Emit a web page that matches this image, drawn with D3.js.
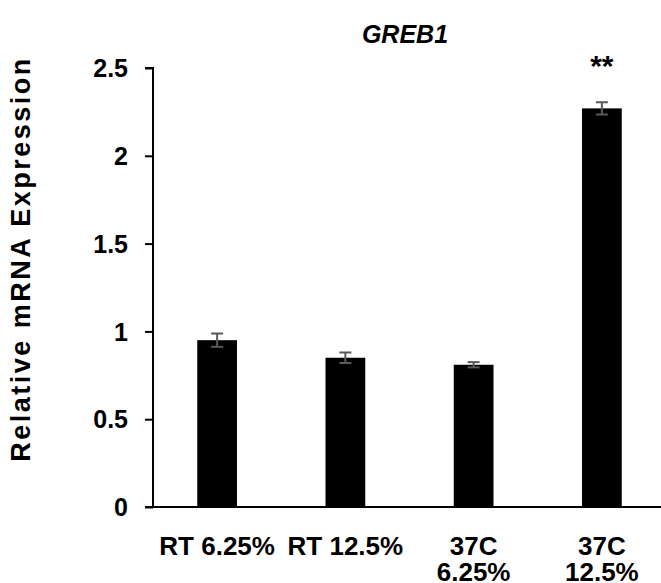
<!DOCTYPE html>
<html>
<head>
<meta charset="utf-8">
<script src="https://cdn.jsdelivr.net/npm/d3@7"></script>
<style>
  html, body { margin: 0; padding: 0; background: #fff; }
  svg { display: block; font-family: "Liberation Sans", Arial, sans-serif; }
</style>
</head>
<body>
<svg id="chart" width="661" height="583"></svg>
<script>
// GREB1 relative expression per condition
const categories = [["RT 6.25%"], ["RT 12.5%"], ["37C", "6.25%"], ["37C", "12.5%"]];
const values = [0.95, 0.85, 0.81, 2.27];
const errors = [0.038, 0.03, 0.015, 0.035];
const marks = ["", "", "", "**"];
const yTicks = [0, 0.5, 1, 1.5, 2, 2.5];

const svg = d3.select("#chart");
const plotLeft = 153, plotRight = 666, plotTop = 68, plotBottom = 507;

const x = d3.scaleBand().domain(d3.range(categories.length)).range([plotLeft, plotRight]).paddingInner(0.69).paddingOuter(0.345);
const y = d3.scaleLinear().domain([0, 2.5]).range([plotBottom, plotTop]);

// y axis
const yAxis = svg.append("g").attr("transform", `translate(${plotLeft},0)`)
  .call(d3.axisLeft(y).tickValues(yTicks).tickSize(8).tickFormat(d => d3.format("")(d)));
yAxis.select(".domain").attr("stroke", "#000").attr("stroke-width", 2).attr("d", `M-8,${plotTop}H0V${plotBottom}`);
yAxis.selectAll(".tick line").attr("stroke", "#000").attr("stroke-width", 2);
yAxis.selectAll(".tick text").attr("x", -25).attr("dy", "0.35em")
  .style("font-size", "25px").style("font-weight", "bold").attr("fill", "#000");

// bars
svg.append("g").selectAll("rect").data(values).join("rect")
  .attr("x", (d, i) => x(i)).attr("width", x.bandwidth())
  .attr("y", d => y(d)).attr("height", d => plotBottom - y(d))
  .attr("fill", "#000");

// x axis line
svg.append("line").attr("x1", plotLeft - 8).attr("x2", 661).attr("y1", plotBottom).attr("y2", plotBottom)
  .attr("stroke", "#000").attr("stroke-width", 2);

// error bars
const eb = svg.append("g").attr("stroke", "#5a5a5a").attr("stroke-width", 2);
values.forEach((v, i) => {
  const cx = x(i) + x.bandwidth() / 2, e = errors[i], hw = 6;
  eb.append("line").attr("x1", cx).attr("x2", cx).attr("y1", y(v + e)).attr("y2", y(v - e));
  eb.append("line").attr("x1", cx - hw).attr("x2", cx + hw).attr("y1", y(v + e)).attr("y2", y(v + e));
  eb.append("line").attr("x1", cx - hw).attr("x2", cx + hw).attr("y1", y(v - e)).attr("y2", y(v - e));
  if (marks[i]) {
    svg.append("text").attr("x", cx).attr("y", y(v + e) - 26).attr("text-anchor", "middle")
      .style("font-size", "30px").style("font-weight", "bold").text(marks[i]);
  }
});

// category labels
categories.forEach((lines, i) => {
  const cx = x(i) + x.bandwidth() / 2;
  const t = svg.append("text").attr("text-anchor", "middle")
    .style("font-size", "26px").style("font-weight", "bold");
  lines.forEach((s, j) => t.append("tspan").attr("x", cx).attr("y", 555 + j * 26).text(s));
});

// title
svg.append("text").attr("x", 405).attr("y", 43).attr("text-anchor", "middle")
  .style("font-size", "25px").style("font-weight", "bold").style("font-style", "italic").text("GREB1");

// y label
svg.append("text").attr("transform", `translate(30,259) rotate(-90)`)
  .attr("text-anchor", "middle").style("font-size", "27px").style("font-weight", "bold")
  .style("letter-spacing", "2.5px")
  .text("Relative mRNA Expression");
</script>
</body>
</html>
